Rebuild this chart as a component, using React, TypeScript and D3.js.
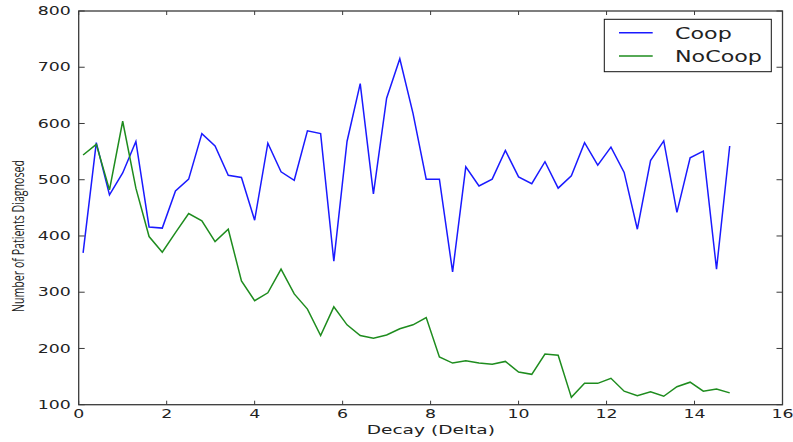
import React from "react";
import * as d3 from "d3";

const xValues: number[] = [
  0.1, 0.4, 0.7, 1.0, 1.3, 1.6, 1.9, 2.2, 2.5, 2.8,
  3.1, 3.4, 3.7, 4.0, 4.3, 4.6, 4.9, 5.2, 5.5, 5.8,
  6.1, 6.4, 6.7, 7.0, 7.3, 7.6, 7.9, 8.2, 8.5, 8.8,
  9.1, 9.4, 9.7, 10.0, 10.3, 10.6, 10.9, 11.2, 11.5, 11.8,
  12.1, 12.4, 12.7, 13.0, 13.3, 13.6, 13.9, 14.2, 14.5, 14.8,
];

const coop: number[] = [
  370, 566, 473, 512, 568, 416, 414, 480, 501, 582,
  560, 508, 504, 428, 565, 514, 499, 587, 582, 355,
  568, 671, 475, 645, 715, 618, 501, 501, 336, 523,
  489, 501, 552, 505, 493, 532, 485, 507, 566, 526,
  558, 513, 412, 534, 569, 442, 539, 551, 341, 560,
];

const noCoop: number[] = [
  544, 563, 482, 604, 485, 399, 371, 406, 440, 427,
  390, 412, 320, 285, 299, 341, 297, 270, 223, 274,
  242, 223, 218, 224, 235, 242, 255, 185, 174, 178,
  174, 172, 177, 158, 154, 190, 188, 113, 138, 138,
  147, 124, 116, 123, 115, 132, 140, 124, 128, 121,
];

const xTicks: number[] = [0, 2, 4, 6, 8, 10, 12, 14, 16];
const yTicks: number[] = [100, 200, 300, 400, 500, 600, 700, 800];
const seriesNames: string[] = ["Coop", "NoCoop"];
const seriesColors: string[] = ["#1a1aff", "#1e8c1e"];

export default function App() {
  const W = 793;
  const H = 442;
  const left = 78.7;
  const right = 782.5;
  const top = 11;
  const bottom = 404.7;
  const sx = 1.52;
  const font = "DejaVu Sans, sans-serif";
  const textColor = "#222";
  const axisColor = "#3a3a3a";

  const x = d3.scaleLinear().domain([0, 16]).range([left, right]);
  const y = d3.scaleLinear().domain([100, 800]).range([bottom, top]);

  const line = d3
    .line<number>()
    .x((_, i) => x(xValues[i]))
    .y((d) => y(d));

  const series = [coop, noCoop];

  return (
    <svg
      width={W}
      height={H}
      style={{ position: "absolute", left: 0, top: 0, background: "#fff" }}
    >
      <rect x={0} y={0} width={W} height={H} fill="#fff" />
      {series.map((s, k) => (
        <path
          key={k}
          d={line(s) || ""}
          fill="none"
          stroke={seriesColors[k]}
          strokeWidth={1.5}
          strokeLinejoin="miter"
        />
      ))}
      {/* frame */}
      <rect
        x={left}
        y={top}
        width={right - left}
        height={bottom - top}
        fill="none"
        stroke={axisColor}
        strokeWidth={1.3}
      />
      {/* x ticks */}
      {xTicks.map((t) => (
        <g key={"x" + t}>
          <line x1={x(t)} x2={x(t)} y1={bottom} y2={bottom - 4} stroke={axisColor} strokeWidth={1} />
          <line x1={x(t)} x2={x(t)} y1={top} y2={top + 4} stroke={axisColor} strokeWidth={1} />
          <text
            transform={`translate(${x(t)},${418}) scale(${sx},1)`}
            textAnchor="middle"
            fontFamily={font}
            fontSize={11.4}
            fill={textColor}
          >
            {t}
          </text>
        </g>
      ))}
      {/* y ticks */}
      {yTicks.map((t) => (
        <g key={"y" + t}>
          <line x1={left} x2={left + 6} y1={y(t)} y2={y(t)} stroke={axisColor} strokeWidth={1} />
          <line x1={right} x2={right - 6} y1={y(t)} y2={y(t)} stroke={axisColor} strokeWidth={1} />
          <text
            transform={`translate(${70.7},${y(t) + 4.2}) scale(${sx},1)`}
            textAnchor="end"
            fontFamily={font}
            fontSize={11.4}
            fill={textColor}
          >
            {t}
          </text>
        </g>
      ))}
      {/* axis labels */}
      <text
        transform={`translate(${430.8},${434}) scale(1.55,1)`}
        textAnchor="middle"
        fontFamily={font}
        fontSize={12}
        fill={textColor}
      >
        Decay (Delta)
      </text>
      <text
        transform={`translate(${24},${236}) rotate(-90)`}
        textAnchor="middle"
        fontFamily="Open Sans, sans-serif"
        fontSize={16}
        fill={textColor}
        textLength={152}
        lengthAdjust="spacingAndGlyphs"
      >
        Number of Patients Diagnosed
      </text>
      {/* legend */}
      <rect x={604.3} y={19.3} width={167} height={52.4} fill="#fff" stroke="#111" strokeWidth={1} />
      {seriesNames.map((n, k) => (
        <g key={n}>
          <line
            x1={619}
            x2={652.7}
            y1={32.7 + k * 23.3}
            y2={32.7 + k * 23.3}
            stroke={seriesColors[k]}
            strokeWidth={1.4}
          />
          <text
            transform={`translate(${675},${38.5 + k * 23.3}) scale(1.48,1)`}
            fontFamily={font}
            fontSize={15}
            fill={textColor}
          >
            {n}
          </text>
        </g>
      ))}
    </svg>
  );
}
